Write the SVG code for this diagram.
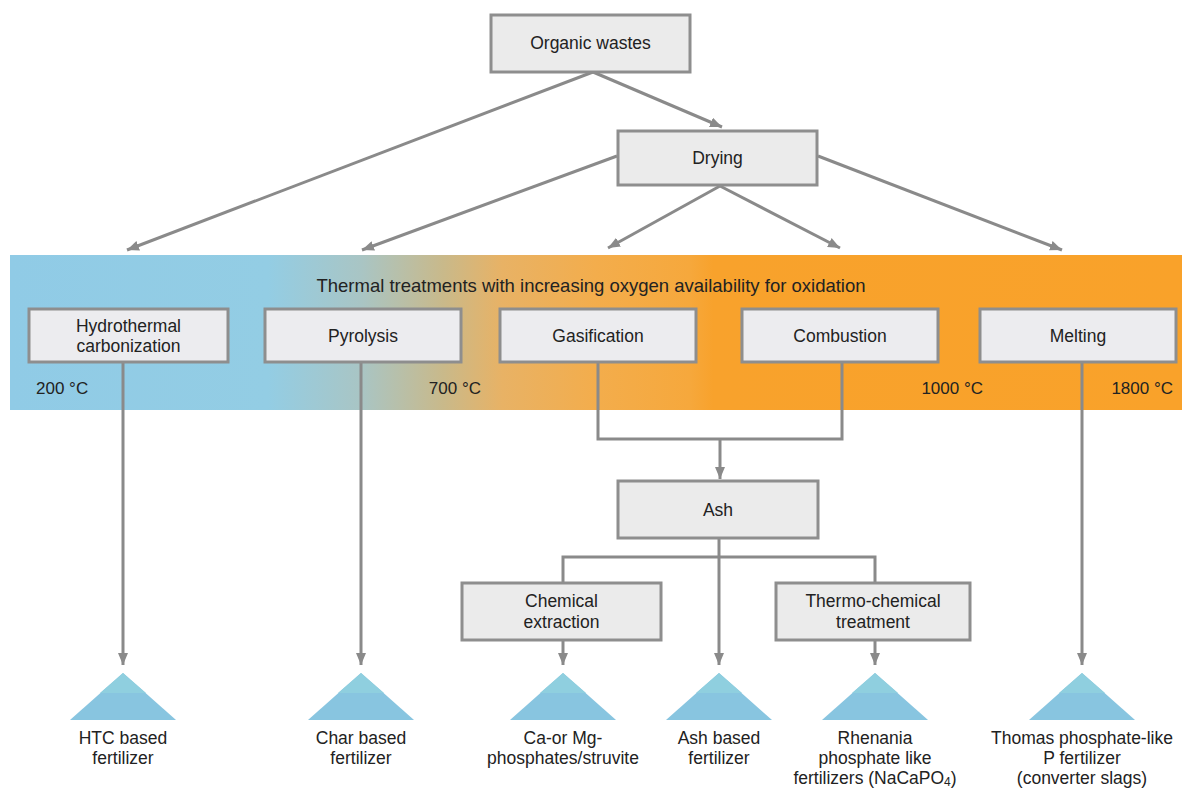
<svg xmlns="http://www.w3.org/2000/svg" width="1182" height="791" viewBox="0 0 1182 791">
<defs>
<linearGradient id="band" x1="10" y1="0" x2="1182" y2="0" gradientUnits="userSpaceOnUse">
<stop offset="0" stop-color="#90cbe6"/>
<stop offset="0.22" stop-color="#93cde4"/>
<stop offset="0.30" stop-color="#a9c5c4"/>
<stop offset="0.37" stop-color="#c9b98a"/>
<stop offset="0.42" stop-color="#e8b265"/>
<stop offset="0.50" stop-color="#f3ad4c"/>
<stop offset="0.58" stop-color="#f6a83c"/>
<stop offset="0.60" stop-color="#f8a22c"/>
<stop offset="1" stop-color="#f9a22a"/>
</linearGradient>
<marker id="ah" markerWidth="12" markerHeight="10" refX="12" refY="5" orient="auto" markerUnits="userSpaceOnUse">
<path d="M0,0 L12,5 L0,10 Z" fill="#8a8a8a"/>
</marker>
<style>
.box{fill:#ebebeb;stroke:#8e8e8e;stroke-width:3}
.bbox{fill:#ececef;stroke:#8e8e8e;stroke-width:3}
.t{font-family:"Liberation Sans",Arial,sans-serif;font-size:17.5px;fill:#222;text-anchor:middle}
.tl{font-family:"Liberation Sans",Arial,sans-serif;font-size:17px;fill:#222}
.ti{font-family:"Liberation Sans",Arial,sans-serif;font-size:18.5px;fill:#222;text-anchor:middle}
.c{fill:none;stroke:#8a8a8a;stroke-width:3}
.tri{fill:#88c5e0}
.tri2{fill:#8fcfdf}
</style>
</defs>
<rect width="1182" height="791" fill="#ffffff"/>
<rect id="band-bg" x="10" y="255" width="1172" height="155" fill="url(#band)"/>
<text class="ti" x="591" y="292">Thermal treatments with increasing oxygen availability for oxidation</text>
<text class="tl" x="36" y="394">200 °C</text>
<text class="tl" x="481" y="394" text-anchor="end">700 °C</text>
<text class="tl" x="983" y="394" text-anchor="end">1000 °C</text>
<text class="tl" x="1173" y="394" text-anchor="end">1800 °C</text>

<g id="connectors">
<line class="c" x1="593" y1="72" x2="722" y2="127" marker-end="url(#ah)"/>
<line class="c" x1="593" y1="72" x2="127" y2="250" marker-end="url(#ah)"/>
<line class="c" x1="617" y1="156" x2="362" y2="250" marker-end="url(#ah)"/>
<line class="c" x1="720" y1="186" x2="608" y2="248" marker-end="url(#ah)"/>
<line class="c" x1="720" y1="186" x2="840" y2="248" marker-end="url(#ah)"/>
<line class="c" x1="818" y1="156" x2="1062" y2="250" marker-end="url(#ah)"/>
<line class="c" x1="123" y1="362" x2="123" y2="665" marker-end="url(#ah)"/>
<line class="c" x1="361" y1="362" x2="361" y2="665" marker-end="url(#ah)"/>
<polyline class="c" points="598,362 598,439 842,439 842,362"/>
<line class="c" x1="720" y1="439" x2="720" y2="479" marker-end="url(#ah)"/>
<line class="c" x1="719" y1="538" x2="719" y2="665" marker-end="url(#ah)"/>
<polyline class="c" points="563,583 563,557 875,557 875,583"/>
<line class="c" x1="563" y1="640" x2="563" y2="665" marker-end="url(#ah)"/>
<line class="c" x1="875" y1="640" x2="875" y2="665" marker-end="url(#ah)"/>
<line class="c" x1="1082" y1="362" x2="1082" y2="665" marker-end="url(#ah)"/>
</g>

<g id="organic-wastes">
<rect class="box" x="491" y="15" width="199" height="57"/>
<text class="t" x="590.5" y="49">Organic wastes</text>
</g>
<g id="drying">
<rect class="box" x="618" y="131" width="199" height="54"/>
<text class="t" x="717.5" y="164">Drying</text>
</g>
<g id="htc">
<rect class="bbox" x="29" y="309" width="199" height="53"/>
<text class="t" x="128.5" y="332">Hydrothermal</text>
<text class="t" x="128.5" y="352">carbonization</text>
</g>
<g id="pyrolysis">
<rect class="bbox" x="265" y="309" width="196" height="53"/>
<text class="t" x="363" y="342">Pyrolysis</text>
</g>
<g id="gasification">
<rect class="bbox" x="500" y="309" width="196" height="53"/>
<text class="t" x="598" y="342">Gasification</text>
</g>
<g id="combustion">
<rect class="bbox" x="742" y="309" width="196" height="53"/>
<text class="t" x="840" y="342">Combustion</text>
</g>
<g id="melting">
<rect class="bbox" x="980" y="309" width="196" height="53"/>
<text class="t" x="1078" y="342">Melting</text>
</g>
<g id="ash">
<rect class="box" x="618" y="481" width="200" height="57"/>
<text class="t" x="718" y="516">Ash</text>
</g>
<g id="chemical-extraction">
<rect class="box" x="462" y="583" width="199" height="57"/>
<text class="t" x="561.5" y="607">Chemical</text>
<text class="t" x="561.5" y="628">extraction</text>
</g>
<g id="thermo-chemical">
<rect class="box" x="776" y="583" width="194" height="57"/>
<text class="t" x="873" y="607">Thermo-chemical</text>
<text class="t" x="873" y="628">treatment</text>
</g>

<g id="htc-fertilizer">
<polygon class="tri" points="123,673 176,720 70,720"/>
<polygon class="tri2" points="123,673 146,693 100,693"/>
<text class="t" x="123" y="744">HTC based</text>
<text class="t" x="123" y="764">fertilizer</text>
</g>
<g id="char-fertilizer">
<polygon class="tri" points="361,673 414,720 308,720"/>
<polygon class="tri2" points="361,673 384,693 338,693"/>
<text class="t" x="361" y="744">Char based</text>
<text class="t" x="361" y="764">fertilizer</text>
</g>
<g id="camg-phosphates">
<polygon class="tri" points="563,673 616,720 510,720"/>
<polygon class="tri2" points="563,673 586,693 540,693"/>
<text class="t" x="563" y="744">Ca-or Mg-</text>
<text class="t" x="563" y="764">phosphates/struvite</text>
</g>
<g id="ash-fertilizer">
<polygon class="tri" points="719,673 772,720 666,720"/>
<polygon class="tri2" points="719,673 742,693 696,693"/>
<text class="t" x="719" y="744">Ash based</text>
<text class="t" x="719" y="764">fertilizer</text>
</g>
<g id="rhenania">
<polygon class="tri" points="875,673 928,720 822,720"/>
<polygon class="tri2" points="875,673 898,693 852,693"/>
<text class="t" x="875" y="744">Rhenania</text>
<text class="t" x="875" y="764">phosphate like</text>
<text class="t" x="875" y="784">fertilizers (NaCaPO<tspan font-size="12" dy="2">4</tspan><tspan dy="-2">)</tspan></text>
</g>
<g id="thomas">
<polygon class="tri" points="1082,673 1135,720 1029,720"/>
<polygon class="tri2" points="1082,673 1105,693 1059,693"/>
<text class="t" x="1082" y="744">Thomas phosphate-like</text>
<text class="t" x="1082" y="764">P fertilizer</text>
<text class="t" x="1082" y="784">(converter slags)</text>
</g>
</svg>
